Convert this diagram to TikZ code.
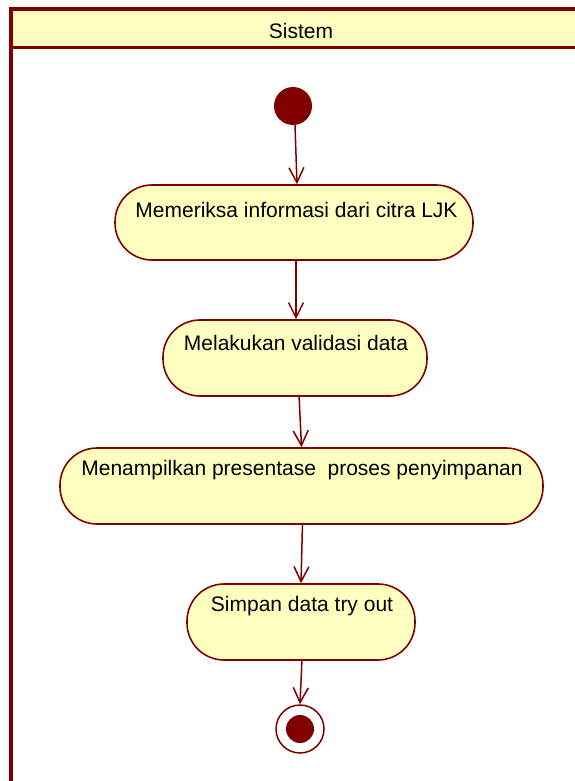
\documentclass[tikz,border=0pt]{standalone}
\usepackage{fontspec}
\setmainfont{Liberation Sans}
\usetikzlibrary{arrows.meta}
\definecolor{umlred}{RGB}{128,0,0}
\definecolor{umlfill}{RGB}{255,255,192}
\tikzset{
  act/.style={draw=umlred, fill=umlfill, line width=1.6pt, rounded corners=37pt, inner sep=0pt},
  lbl/.style={font=\fontsize{21}{25}\selectfont, inner sep=0pt, anchor=center},
  flow/.style={draw=umlred, line width=1.5pt, -{Straight Barb[length=15pt, width=15pt, line width=1.5pt]}},
}
\begin{document}
\begin{tikzpicture}[x=1pt, y=-1pt]
\useasboundingbox (0,0) rectangle (574,781);
% swimlane
\fill[umlfill] (11,9) rectangle (590,48);
\draw[umlred, line width=3.5pt] (11,800) -- (11,9) -- (590,9);
\draw[umlred, line width=3pt] (11,48) -- (590,48);
\node[lbl] (lane) at (301,31) {Sistem};
% start and end
\node[circle, fill=umlred, minimum size=38pt, inner sep=0pt] (start) at (293,106) {};
\node[circle, draw=umlred, fill=white, line width=1.5pt, minimum size=48pt, inner sep=0pt] (end) at (300,729) {};
\node[circle, fill=umlred, minimum size=28pt, inner sep=0pt] (endin) at (300,729) {};
% activities
\node[act, minimum width=358pt, minimum height=75pt] (a1) at (294,222.5) {};
\node[lbl] (t1) at (296.5,210) {Memeriksa informasi dari citra LJK};
\node[act, minimum width=264pt, minimum height=76pt] (a2) at (295,358) {};
\node[lbl] (t2) at (296,343) {Melakukan validasi data};
\node[act, minimum width=483pt, minimum height=76pt] (a3) at (301.5,486) {};
\node[lbl] (t3) at (302,470) {Menampilkan presentase\ \ proses penyimpanan};
\node[act, minimum width=228pt, minimum height=76pt] (a4) at (301,622) {};
\node[lbl] (t4) at (302,606) {Simpan data try out};
% flows
\draw[flow] ([xshift=2pt]start.south) -- ([xshift=3pt]a1.north);
\draw[flow] ([xshift=2pt,yshift=2pt]a1.south) -- ([xshift=1pt]a2.north);
\draw[flow] ([xshift=4pt,yshift=2pt]a2.south) -- (a3.north);
\draw[flow] ([xshift=1pt,yshift=2pt]a3.south) -- (a4.north);
\draw[flow] ([xshift=1pt,yshift=2pt]a4.south) -- (end.north);
\end{tikzpicture}
\end{document}
